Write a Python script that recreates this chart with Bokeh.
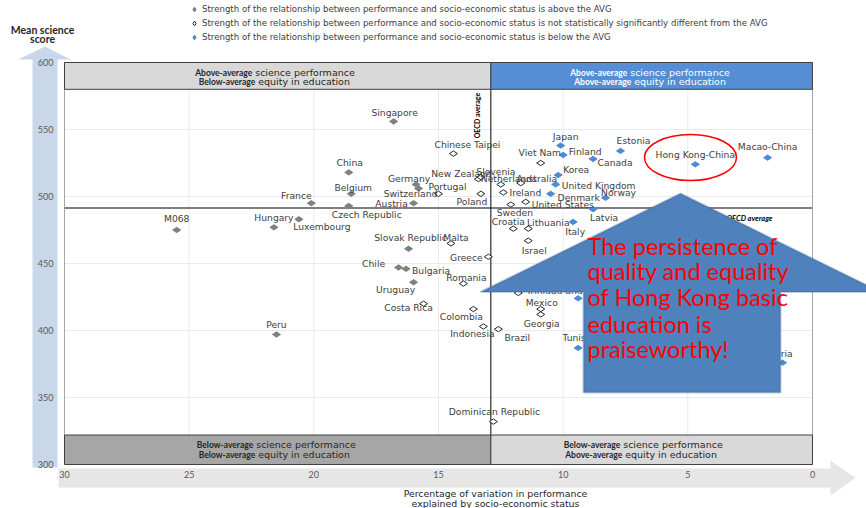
import math
from bokeh.plotting import figure
from bokeh.models import (Range1d, FixedTicker, PolyAnnotation, Label, Legend,
                          LegendItem, ColumnDataSource)
from bokeh.embed import file_html
from bokeh.resources import INLINE
from bokeh.core.properties import value

# ---------------- data ----------------
above_avg_countries = ["Singapore", "China", "Germany", "Switzerland", "Belgium", "France",
                       "Austria", "Czech Republic", "Hungary", "Luxembourg", "M068", "Peru",
                       "Slovak Republic", "Chile", "Bulgaria", "Uruguay"]
above_avg_x = [16.8, 18.6, 15.9, 15.8, 18.5, 20.1, 16.0, 18.6, 21.6, 20.6, 25.5, 21.5,
               16.2, 16.6, 16.3, 16.0]
above_avg_y = [556, 518, 509, 506, 502, 495, 495, 493, 477, 483, 475, 397,
               461, 447, 446, 436]

notsig_countries = ["Chinese Taipei", "New Zealand", "Slovenia", "Portugal", "Poland",
                    "Netherlands", "Australia", "Ireland", "Viet Nam", "United States",
                    "Sweden", "Croatia", "Lithuania", "Malta", "Israel", "Greece", "Romania",
                    "Costa Rica", "Colombia", "Indonesia", "Brazil", "Mexico", "Georgia",
                    "Moldova", "Dominican Republic"]
notsig_x = [14.4, 13.4, 13.3, 15.0, 13.3, 12.5, 11.7, 12.4, 10.9, 11.5, 12.1, 12.0, 11.4,
            14.5, 11.4, 13.0, 14.0, 15.6, 13.6, 13.2, 12.6, 10.9, 10.9, 11.8, 12.8]
notsig_y = [532, 513, 514.5, 502, 502, 509, 510, 503, 525, 496, 494, 476, 476,
            465, 467, 455, 435, 420, 416, 403, 401, 416, 412, 428, 332]

below_avg_countries = ["Japan", "Finland", "Estonia", "Canada", "Hong Kong-China",
                       "Macao-China", "Korea", "United Kingdom", "Denmark", "Norway",
                       "Latvia", "Italy", "Trinidad and Tobago", "Tunisia", "Algeria"]
below_avg_x = [10.1, 10.0, 7.7, 8.8, 4.7, 1.8, 10.2, 10.3, 10.5, 8.3, 8.8, 9.6, 9.4, 9.4, 1.2]
below_avg_y = [538, 531, 534, 528, 524, 529, 516, 509, 502, 499, 490.5, 481, 424, 387, 376]

oecd_avg_x = 12.9
oecd_avg_y = 491.5

x_ticks = [30, 25, 20, 15, 10, 5, 0]
y_ticks = [300, 350, 400, 450, 500, 550, 600]

legend_labels = [
    "Strength of the relationship between performance and socio-economic status is above the AVG",
    "Strength of the relationship between performance and socio-economic status is not statistically significantly different from the AVG",
    "Strength of the relationship between performance and socio-economic status is below the AVG",
]
y_title = ["Mean science", "score"]
x_title = ["Percentage of variation in performance", "explained by socio-economic status"]
message = ["The persistence of", "quality and equality", "of Hong Kong basic",
           "education is", "praiseworthy!"]

# ---------------- label placement (screen px offsets) ----------------
label_offsets = {
    "Singapore": (1, -9), "China": (1, -10), "Germany": (-7, -6), "Switzerland": (-8, 5),
    "Belgium": (2, -6), "France": (-15, -8), "Austria": (-22, 0), "Czech Republic": (18, 9),
    "Hungary": (0, -10), "Luxembourg": (23, 7), "M068": (0, -11), "Peru": (0, -10),
    "Slovak Republic": (2, -11), "Chile": (-25, -4), "Bulgaria": (25, 2), "Uruguay": (-18, 7),
    "Chinese Taipei": (14, -9), "New Zealand": (-17, -6), "Slovenia": (15, -6),
    "Portugal": (9, -7), "Poland": (-9, 8), "Netherlands": (8, -6), "Australia": (16, -5),
    "Ireland": (22, 0), "Viet Nam": (-1, -10), "United States": (37, 3), "Sweden": (4, 8),
    "Croatia": (-5, -7), "Lithuania": (20, -6), "Malta": (5, -6), "Israel": (6, 10),
    "Greece": (-22, 1), "Romania": (3, -6), "Costa Rica": (-15, 4), "Colombia": (-12, 7),
    "Indonesia": (-11, 7), "Brazil": (19, 8), "Mexico": (1, -7), "Georgia": (1, 9),
    "Moldova": None, "Dominican Republic": (1, -10),
    "Japan": (5, -9), "Finland": (22, -3), "Estonia": (13, -10), "Canada": (22, 4),
    "Hong Kong-China": (0, -10), "Macao-China": (0, -11), "Korea": (18, -6),
    "United Kingdom": (43, 1), "Denmark": (28, 4), "Norway": (13, -5), "Latvia": (11, 8),
    "Italy": (2, 10), "Trinidad and Tobago": (-6, -8), "Tunisia": (0, -10),
    "Algeria": (-6, -9),
}

LABEL_FONT = value("DejaVu Sans")
BOX_FONT = value("Lato")
FONT = "Lato"

# The frame fills the whole canvas; data region is x 30..0, y 300..600.
p = figure(width=866, height=508, x_range=Range1d(32.567, -2.166),
           y_range=Range1d(267.16, 646.27),
           output_backend="svg", toolbar_location=None, title=None,
           min_border=0, min_border_left=0, min_border_right=0, min_border_top=0,
           min_border_bottom=0)
p.outline_line_color = None
p.background_fill_color = "white"
p.border_fill_color = "white"
p.xgrid.visible = False
p.ygrid.visible = False

# axes drawn at the edges of the data region
p.xaxis.fixed_location = 300
p.yaxis.fixed_location = 30
for ax in (p.xaxis[0], p.yaxis[0]):
    ax.axis_line_color = None
    ax.major_tick_line_color = None
    ax.minor_tick_line_color = None
    ax.major_tick_out = 0
    ax.major_tick_in = 0
    ax.major_label_text_font = FONT
    ax.major_label_text_font_size = "9px"
    ax.major_label_text_color = "#595959"
p.xaxis.ticker = FixedTicker(ticks=x_ticks)
p.yaxis.ticker = FixedTicker(ticks=y_ticks)
p.xaxis.major_label_standoff = 7
p.yaxis.major_label_standoff = 11

# decorative arrows (underlay)
p.add_layout(PolyAnnotation(
    xs=[31.283, 31.283, 31.845, 30.782, 29.759, 30.281, 30.281],
    ys=[297.76, 602.24, 602.24, 611.9, 602.24, 602.24, 297.76],
    fill_color="#c9d7ea", fill_alpha=1, line_color=None, level="underlay"))
p.add_layout(PolyAnnotation(
    xs=[30.24, -0.722, -0.722, -1.725, -0.722, -0.722, 30.24],
    ys=[297.01, 297.01, 302.99, 289.93, 276.87, 282.84, 282.84],
    fill_color="#e6e6e6", fill_alpha=1, line_color=None, level="underlay"))

# grid lines inside the data region
p.segment(x0=x_ticks[1:-1], y0=[300] * 5, x1=x_ticks[1:-1], y1=[600] * 5,
          line_color="#ebebeb", line_width=1)
p.segment(x0=[30] * 5, y0=y_ticks[1:-1], x1=[0] * 5, y1=y_ticks[1:-1],
          line_color="#ebebeb", line_width=1)
# plot-area border
p.quad(left=[30], right=[0], top=[600], bottom=[300], fill_color=None,
       line_color="#a6a6a6", line_width=1)

# OECD average lines
p.segment(x0=[30], y0=[oecd_avg_y], x1=[0], y1=[oecd_avg_y], line_color="#7f7f7f", line_width=2)
p.segment(x0=[oecd_avg_x], y0=[322], x1=[oecd_avg_x], y1=[580], line_color="black", line_width=1)

# quadrant boxes
p.quad(left=[30], right=[oecd_avg_x], top=[600], bottom=[580], fill_color="#d9d9d9",
       line_color="#404040", line_width=1)
p.quad(left=[oecd_avg_x], right=[0], top=[600], bottom=[580], fill_color="#558ed5",
       line_color="#404040", line_width=1)
p.quad(left=[30], right=[oecd_avg_x], top=[322], bottom=[300], fill_color="#a6a6a6",
       line_color="#404040", line_width=1)
p.quad(left=[oecd_avg_x], right=[0], top=[322], bottom=[300], fill_color="#d9d9d9",
       line_color="#404040", line_width=1)

lc = (30 + oecd_avg_x) / 2
rc = oecd_avg_x / 2
box_lines = [
    (lc, 592.5, "Above-average", "science performance", "#262626", -24),
    (lc, 585.5, "Below-average", "equity in education", "#262626", -21),
    (rc, 592.5, "Above-average", "science performance", "white", -23),
    (rc, 585.5, "Above-average", "equity in education", "white", -19),
    (lc, 314.6, "Below-average", "science performance", "#262626", -23),
    (lc, 307.1, "Below-average", "equity in education", "#262626", -21),
    (rc, 314.6, "Below-average", "science performance", "#262626", -30),
    (rc, 307.1, "Above-average", "equity in education", "#262626", -28),
]
for (cx, cy, b, n, col, split) in box_lines:
    p.text(x=[cx], y=[cy], text=[b], x_offset=split - 1.5, text_align="right",
           text_baseline="middle", text_font=BOX_FONT, text_font_size="8.5px",
           text_font_style="bold", text_color=col)
    p.text(x=[cx], y=[cy], text=[n], x_offset=split + 1.5, text_align="left",
           text_baseline="middle", text_font=LABEL_FONT, text_font_size="9.5px",
           text_color=col)

# OECD average labels
p.text(x=[oecd_avg_x], y=[560.4], text=["OECD average"], x_offset=-14, angle=math.pi / 2,
       text_align="center", text_baseline="middle", text_font=BOX_FONT,
       text_font_size="7px", text_font_style="bold", text_color="black")
p.text(x=[0], y=[oecd_avg_y], text=["OECD average"], x_offset=-40, y_offset=11,
       text_align="right", text_baseline="middle", text_font=BOX_FONT,
       text_font_size="7.5px", text_font_style="bold italic", text_color="black")

# points
r_above = p.scatter(above_avg_x, above_avg_y, marker="diamond", angle=math.pi / 2, size=8,
                    fill_color="#808080", line_color="#808080")
r_notsig = p.scatter(notsig_x, notsig_y, marker="diamond", angle=math.pi / 2, size=8,
                     fill_color="white", line_color="#262626", line_width=1)
r_below = p.scatter(below_avg_x, below_avg_y, marker="diamond", angle=math.pi / 2, size=8,
                    fill_color="#4a8ad8", line_color="#4a8ad8")

# point labels
names = above_avg_countries + notsig_countries + below_avg_countries
xs = above_avg_x + notsig_x + below_avg_x
ys = above_avg_y + notsig_y + below_avg_y
txt, dxs, dys = [], [], []
for nme in names:
    off = label_offsets.get(nme, (0, -10))
    if off is None:
        txt.append(""); dxs.append(0); dys.append(0)
    else:
        txt.append(nme); dxs.append(off[0]); dys.append(off[1])
src = ColumnDataSource(dict(x=xs, y=ys, t=txt, dx=dxs, dy=dys))
p.text(x="x", y="y", text="t", x_offset="dx", y_offset="dy", source=src,
       text_font=LABEL_FONT, text_font_size="9.2px", text_color="#404040",
       text_align="center", text_baseline="middle")

# highlight ellipse round Hong Kong
p.ellipse(x=[4.893], y=[529.1], width=92, height=46, width_units="screen",
          height_units="screen", fill_color=None, line_color="red", line_width=1.5)

# legend
legend = Legend(items=[LegendItem(label=legend_labels[0], renderers=[r_above]),
                       LegendItem(label=legend_labels[1], renderers=[r_notsig]),
                       LegendItem(label=legend_labels[2], renderers=[r_below])],
                location=(188, 464), orientation="vertical", margin=0, padding=0,
                spacing=0, glyph_width=12, glyph_height=14, label_height=14,
                label_standoff=2, label_text_font="DejaVu Sans",
                label_text_font_size="8.6px",
                label_text_color="#404040", border_line_color=None,
                background_fill_alpha=0)
p.add_layout(legend)

# axis titles
def add_label(x, y, text, size, style="normal", color="#262626", align="center",
              font=FONT):
    p.add_layout(Label(x=x, y=y, text=text, text_align=align, text_baseline="middle",
                       text_font=font, text_font_size=size, text_font_style=style,
                       text_color=color))

add_label(30.882, 624.4, y_title[0], "10.5px", "bold")
add_label(30.882, 617.2, y_title[1], "10.5px", "bold")
add_label(12.714, 278.4, x_title[0], "9.4px", font="DejaVu Sans")
add_label(12.714, 270.9, x_title[1], "9.4px", font="DejaVu Sans")

# big up-arrow call-out
p.add_layout(PolyAnnotation(
    xs=[5.294, -2.727, 1.283, 1.283, 9.184, 9.184, 13.316],
    ys=[502.24, 428.73, 428.73, 353.73, 353.73, 428.73, 428.73],
    fill_color="#4f81bd", fill_alpha=1, line_color="#385d8a", line_width=2))
msg_y = [463.43, 444.03, 424.63, 405.22, 385.82]
for line, yy in zip(message, msg_y):
    add_label(9.024, yy, line, "23.5px", color="#ff0000", align="left")

open("out.html", "w").write(file_html(p, INLINE))
